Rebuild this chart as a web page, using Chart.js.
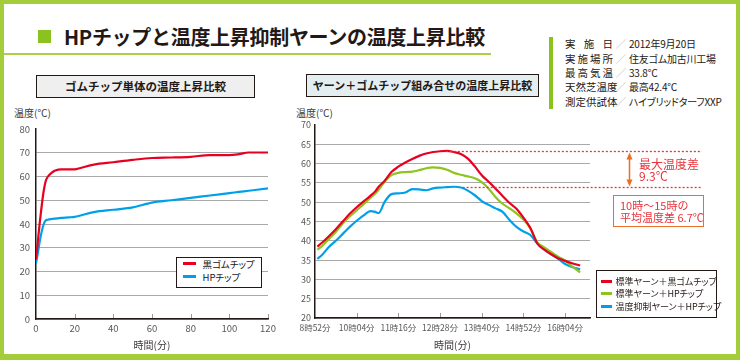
<!DOCTYPE html>
<html><head><meta charset="utf-8">
<script src="https://cdn.jsdelivr.net/npm/chart.js@4/dist/chart.umd.min.js"></script>
<style>
*{box-sizing:border-box;margin:0;padding:0}
body{width:740px;height:360px;background:#fff;font-family:"Noto Sans CJK JP","Noto Sans",sans-serif;color:#231815;overflow:hidden;position:relative}
#frame{position:absolute;left:0;top:0;width:740px;height:360px;border:4px solid #a3cd3b;border-bottom-width:6px;pointer-events:none;z-index:5}
.abs{position:absolute;white-space:nowrap}
#sq{left:38px;top:30px;width:13px;height:13px;background:#8cc21f}
#title{left:64px;top:24px;font-size:20px;font-weight:bold;line-height:26px;color:#231815;letter-spacing:-0.3px}
#uline{left:3px;top:53px;width:488px;height:2px;background:#a9d04b}
#ibar{left:549px;top:37px;width:4px;height:72px;background:#8cc21f}
.irow{position:absolute;left:565px;height:14px;font-size:10.5px;line-height:14px;display:flex;color:#231815;white-space:nowrap}
.irow .lab{width:48px;display:flex;justify-content:space-between}
.irow .sl{width:16px;color:#b5b5b5;text-align:center}
.irow .val{font-size:10px;font-feature-settings:"palt";letter-spacing:-0.2px}
.cbox{position:absolute;border:1px solid #231815;font-weight:bold;text-align:center;color:#231815;white-space:nowrap}
canvas{position:absolute}
.ylab{position:absolute;font-size:10px;line-height:12px;color:#3e3a39}
.legend{position:absolute;background:#fff;border:1.5px solid #231815;z-index:3}
.legend .it{position:absolute;line-height:12px;color:#231815;white-space:nowrap;font-feature-settings:"palt"}
.legend .sw{position:absolute;height:3px}
.red{color:#e8333a;font-size:12px;line-height:12px}
.red2{color:#e8333a;font-size:11px;line-height:12px}
</style></head>
<body>
<div id="frame"></div>
<div class="abs" id="sq"></div>
<div class="abs" id="title">HPチップと温度上昇抑制ヤーンの温度上昇比較</div>
<div class="abs" id="uline"></div>
<div class="abs" id="ibar"></div>
<div id="info"></div>

<div class="cbox" style="left:36px;top:75px;width:219px;height:23px;background:#efefef;font-size:11.5px;line-height:21px">ゴムチップ単体の温度上昇比較</div>
<div class="cbox" style="left:306px;top:74px;width:233px;height:23px;background:#e4eef0;font-size:11px;line-height:21px">ヤーン＋ゴムチップ組み合せの温度上昇比較</div>

<div class="ylab" style="left:14px;top:107px">温度(℃)</div>
<div class="ylab" style="left:296px;top:107px">温度(℃)</div>

<canvas id="c1" width="290" height="256" style="left:0;top:100px;width:290px;height:256px"></canvas>
<canvas id="c2" width="450" height="256" style="left:290px;top:100px;width:450px;height:256px"></canvas>

<div class="abs red" style="left:639px;top:158px">最大温度差</div>
<div class="abs red" style="left:639px;top:170px">9.3℃</div>
<div class="abs" style="left:613px;top:195px;width:91px;height:32px;border:1.5px solid #e8702a;background:#fff"></div>
<div class="abs red2" style="left:620px;top:199px">10時〜15時の</div>
<div class="abs red2" style="left:620px;top:211px">平均温度差 6.7℃</div>

<div class="legend" id="lg1" style="left:176px;top:257px;width:86px;height:31px"></div>
<div class="legend" id="lg2" style="left:596px;top:270px;width:121px;height:48px"></div>

<script>
// ---- info table ----
const infoLabels=['実施日','実施場所','最高気温','天然芝温度','測定供試体'];
const infoValues=['2012年9月20日','住友ゴム加古川工場','33.8℃','最高42.4℃','ハイブリッドターフXXP'];

// ---- left chart: rubber chip alone ----
const leftTimes=[0,1,2,3,4,5,6,8,10,13,17,20,23,30,40,50,60,70,80,90,100,105,110,120];
const blackRubberChip=[25,33,41,48,54,58,59.8,61.5,62.5,63,63,63,63.6,65,66,67,67.8,68,68.3,69,69,69.4,70.1,70.1];
const hpChip=[23.5,28,33,37,40,41.5,41.8,42.1,42.3,42.6,42.8,43,43.6,45,46,47,49,50,51,52,53,53.5,54,55];
const leftSeriesNames=['黒ゴムチップ','HPチップ'];

// ---- right chart: yarn + rubber chip (minutes after 8:52) ----
const rightTimes=[4,12,24,36,48,60,72,84,96,104,110,120,132,144,156,168,180,192,204,216,228,240,252,264,276,288,300,312,324,336,348,360,372,384,396,408,420,432,444,458];
const stdYarnBlack=[38.5,39.5,41.2,43,45,47,48.7,50.2,51.7,52.8,54,55.5,57.8,59.2,60.3,61.2,62,62.6,63,63.2,63.3,63,62.5,61.3,59.3,57,55.3,53.5,51.6,49.8,48.3,46,43.3,39.3,37.7,36.5,35.5,34.8,34.2,33.6];
const stdYarnHP=[37.7,38.6,40.5,42.3,44.5,46.3,47.9,49.5,51.2,52.2,53.2,55.2,57,57.6,57.8,57.9,58.3,58.8,59,58.9,58.4,57.6,57.1,56.7,56.2,55.2,53.5,51.3,49.6,48.4,47.1,45.5,43.2,39.6,38.3,37.1,35.9,34.9,33.4,31.8];
const suppressYarnHP=[35.3,36.3,38.4,40,41.8,43.6,45.2,46.6,47.7,47.5,47.2,50,52.1,52.3,52.5,53.4,53.3,53.1,53.6,53.8,53.9,54,53.8,53,51.8,50.3,49.3,48.4,47.5,45.4,43.6,42.4,41.5,39.3,37.8,36.5,35.3,34,33.2,32.6];
const rightSeriesNames=['標準ヤーン＋黒ゴムチップ','標準ヤーン＋HPチップ','温度抑制ヤーン＋HPチップ'];
const rightXTicks=[0,72,144,216,288,360,432];
const rightXTickLabels=['8時52分','10時04分','11時16分','12時28分','13時40分','14時52分','16時04分'];
const maxDiffTop=63.3, maxDiffBottom=54.0;

const RED='#e60021', GREEN='#8fc31f', BLUE='#00a0e9';
const AXIS='#231815', GRID='#a9a9a9', TICK='#595757';
const FONT='"Noto Sans CJK JP","Noto Sans",sans-serif';

// info rows
(function(){
  const info=document.getElementById('info');
  const tops=[37,51.5,66,80,94.5];
  infoLabels.forEach((l,i)=>{
    const r=document.createElement('div');r.className='irow';r.style.top=tops[i]+'px';
    const lab=document.createElement('span');lab.className='lab';
    [...l].forEach(ch=>{const s=document.createElement('span');s.textContent=ch;lab.appendChild(s);});
    const sl=document.createElement('span');sl.className='sl';sl.textContent='／';
    const v=document.createElement('span');v.className='val';v.textContent=infoValues[i];
    r.appendChild(lab);r.appendChild(sl);r.appendChild(v);info.appendChild(r);
  });
})();

const pts=(xs,ys)=>xs.map((x,i)=>({x:x,y:ys[i]}));
const line=(label,color,data)=>({label,data,borderColor:color,backgroundColor:color,borderWidth:2.2,pointRadius:0,fill:false,cubicInterpolationMode:'monotone'});

const innerTicks={id:'innerTicks',afterDraw(chart){
  const {ctx,chartArea}=chart;const x=chart.scales.x;
  ctx.save();ctx.strokeStyle='#9a9a9a';ctx.lineWidth=1;
  x.ticks.forEach(t=>{if(t.value===x.min)return;const px=Math.round(x.getPixelForValue(t.value))+0.5;
    ctx.beginPath();ctx.moveTo(px,chartArea.bottom-1);ctx.lineTo(px,chartArea.bottom-5);ctx.stroke();});
  ctx.restore();}};

const annot={id:'annot',afterDatasetsDraw(chart){
  const {ctx,chartArea}=chart;const x=chart.scales.x,y=chart.scales.y;
  const yT=Math.round(y.getPixelForValue(maxDiffTop))+0.5, yB=Math.round(y.getPixelForValue(maxDiffBottom))+0.5;
  const xEnd=chartArea.right+112;
  ctx.save();ctx.strokeStyle='#e8333a';ctx.lineWidth=1.3;ctx.setLineDash([2,2]);
  ctx.beginPath();ctx.moveTo(x.getPixelForValue(226),yT);ctx.lineTo(xEnd,yT);ctx.stroke();
  ctx.beginPath();ctx.moveTo(x.getPixelForValue(255),yB);ctx.lineTo(xEnd,yB);ctx.stroke();
  ctx.setLineDash([]);
  const ax=chartArea.right+39.5;ctx.strokeStyle='#ea6e23';ctx.fillStyle='#ea6e23';ctx.lineWidth=1.5;
  ctx.beginPath();ctx.moveTo(ax,yT+4);ctx.lineTo(ax,yB-4);ctx.stroke();
  ctx.beginPath();ctx.moveTo(ax,yT+1);ctx.lineTo(ax-3,yT+8);ctx.lineTo(ax+3,yT+8);ctx.closePath();ctx.fill();
  ctx.beginPath();ctx.moveTo(ax,yB-1);ctx.lineTo(ax-3,yB-8);ctx.lineTo(ax+3,yB-8);ctx.closePath();ctx.fill();
  ctx.restore();}};

Chart.defaults.font.family=FONT;

const c1=new Chart(document.getElementById('c1'),{
  type:'line',
  data:{datasets:[line(leftSeriesNames[0],RED,pts(leftTimes,blackRubberChip)),line(leftSeriesNames[1],BLUE,pts(leftTimes,hpChip))]},
  options:{responsive:false,animation:false,
    layout:{padding:{left:0,right:22,top:29,bottom:0}},
    plugins:{legend:{display:false},tooltip:{enabled:false}},
    scales:{
      x:{type:'linear',min:0,max:120,ticks:{stepSize:20,padding:4,maxRotation:0,color:TICK,font:{size:9.5}},
        grid:{display:false,drawTicks:false},border:{display:true,color:AXIS,width:1.5},
        title:{display:true,text:'時間(分)',color:'#3e3a39',font:{size:10},padding:{top:0,bottom:5}},
        afterFit:s=>{s.height=37;}},
      y:{min:0,max:80,ticks:{stepSize:10,padding:6,color:TICK,font:{size:9.5}},
        grid:{color:c=>c.tick&&c.tick.value===80?'rgba(0,0,0,0)':GRID,lineWidth:1,drawTicks:false},
        border:{display:true,color:AXIS,width:1.5},
        afterFit:s=>{s.width=36;}}
    }},
  plugins:[innerTicks]
});

const c2=new Chart(document.getElementById('c2'),{
  type:'line',
  data:{datasets:[line(rightSeriesNames[0],RED,pts(rightTimes,stdYarnBlack)),line(rightSeriesNames[1],GREEN,pts(rightTimes,stdYarnHP)),line(rightSeriesNames[2],BLUE,pts(rightTimes,suppressYarnHP))]},
  options:{responsive:false,animation:false,
    layout:{padding:{left:0,right:150,top:25,bottom:0}},
    plugins:{legend:{display:false},tooltip:{enabled:false}},
    scales:{
      x:{type:'linear',min:0,max:475,
        afterBuildTicks:s=>{s.ticks=rightXTicks.map(v=>({value:v}));},
        ticks:{padding:5,maxRotation:0,autoSkip:false,color:TICK,font:{size:8.5},callback:(v,i)=>rightXTickLabels[i]},
        grid:{display:false,drawTicks:false},border:{display:true,color:AXIS,width:1.5},
        title:{display:true,text:'時間(分)',color:'#3e3a39',font:{size:10},padding:{top:0,bottom:5}},
        afterFit:s=>{s.height=38;}},
      y:{min:20,max:70,ticks:{stepSize:5,padding:4,color:TICK,font:{size:9}},
        grid:{color:c=>c.tick&&c.tick.value===70?'rgba(0,0,0,0)':GRID,lineWidth:1,drawTicks:false},
        border:{display:true,color:AXIS,width:1.5},
        afterFit:s=>{s.width=25;}}
    }},
  plugins:[innerTicks,annot]
});

// HTML legends built from chart datasets
function buildLegend(chart,el,rowTops,swX,swW,txtX,fs){
  chart.data.datasets.forEach((d,i)=>{
    const sw=document.createElement('div');sw.className='sw';
    sw.style.cssText=`left:${swX}px;top:${rowTops[i]-1.5}px;width:${swW}px;background:${d.borderColor}`;
    const t=document.createElement('div');t.className='it';t.textContent=d.label;
    t.style.left=txtX+'px';t.style.top=(rowTops[i]-6)+'px';t.style.fontSize=fs+'px';
    el.appendChild(sw);el.appendChild(t);
  });
}
buildLegend(c1,document.getElementById('lg1'),[5.5,18.5],5.5,13,25.5,9.5);
buildLegend(c2,document.getElementById('lg2'),[10.5,22.5,35.5],3.5,11,18.5,9);
</script>
</body></html>
